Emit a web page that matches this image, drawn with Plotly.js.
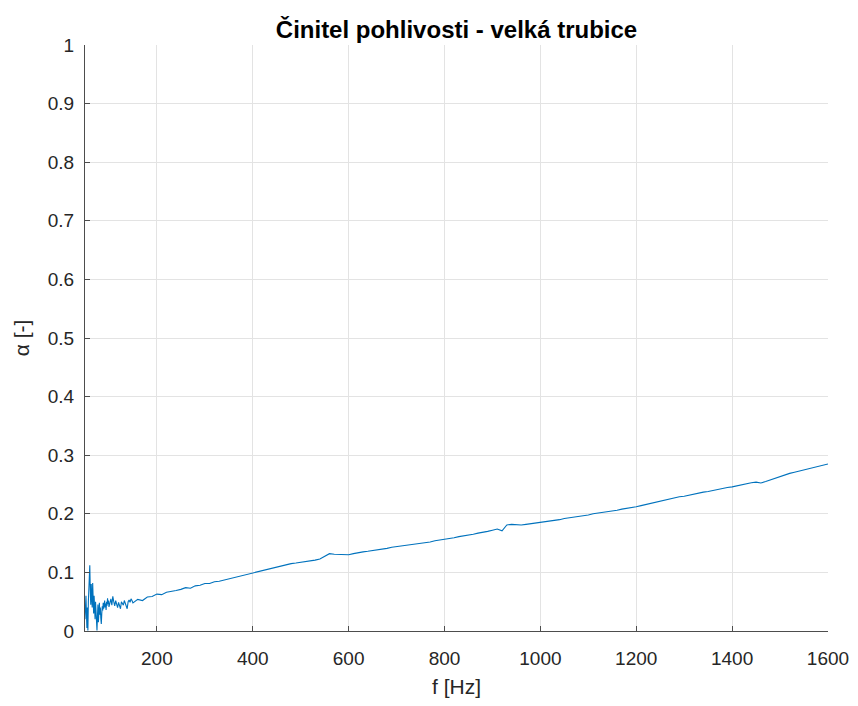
<!DOCTYPE html>
<html>
<head>
<meta charset="utf-8">
<script src="https://cdn.plot.ly/plotly-3.0.1.min.js"></script>
<style>html,body{margin:0;padding:0;background:#fff;}#chart{width:858px;height:706px;}</style>
</head>
<body>
<div id="chart"></div>
<script>
// Low-frequency (noisy) part, 1 Hz step
const freqLow = [50,51,52,53,54,55,56,57,58,59,60,61,62,63,64,65,66,67,68,69,70,71,72,73,74,75,76,77,78,79,80,81,82,83,84,85,86,87,88,89,90,91,92,93,94,95,96,97,98,99,100];
const alphaLow = [0.020,0.045,0.060,0.030,0.005,0.040,0.001,0.050,0.085,0.108,0.112,0.070,0.045,0.080,0.055,0.040,0.082,0.050,0.030,0.060,0.045,0.020,0.050,0.035,0.010,0.001,0.025,0.045,0.015,0.035,0.048,0.028,0.040,0.022,0.012,0.030,0.042,0.035,0.048,0.038,0.045,0.052,0.040,0.047,0.036,0.050,0.043,0.056,0.046,0.052,0.041];
// 102-150 Hz, 2 Hz step
const freqMid = [102,104,106,108,110,112,114,116,118,120,122,124,126,128,130,132,134,136,138,140,142,144,146,148,150];
const alphaMid = [0.048,0.055,0.044,0.059,0.050,0.043,0.052,0.046,0.040,0.049,0.045,0.038,0.050,0.047,0.044,0.052,0.048,0.042,0.038,0.050,0.053,0.049,0.055,0.052,0.048];
// 160-1600 Hz, 10 Hz step
const freqHigh = [160,170,180,190,200,210,220,230,240,250,260,270,280,290,300,310,320,330,340,350,360,370,380,390,400,410,420,430,440,450,460,470,480,490,500,510,520,530,540,550,560,570,580,590,600,610,620,630,640,650,660,670,680,690,700,710,720,730,740,750,760,770,780,790,800,810,820,830,840,850,860,870,880,890,900,910,920,930,940,950,960,970,980,990,1000,1010,1020,1030,1040,1050,1060,1070,1080,1090,1100,1110,1120,1130,1140,1150,1160,1170,1180,1190,1200,1210,1220,1230,1240,1250,1260,1270,1280,1290,1300,1310,1320,1330,1340,1350,1360,1370,1380,1390,1400,1410,1420,1430,1440,1450,1460,1470,1480,1490,1500,1510,1520,1530,1540,1550,1560,1570,1580,1590,1600];
const alphaHigh = [0.054,0.052,0.058,0.059,0.063,0.062,0.066,0.067,0.069,0.071,0.074,0.073,0.077,0.078,0.081,0.081,0.084,0.085,0.087,0.090,0.091,0.094,0.095,0.097,0.099,0.101,0.104,0.106,0.108,0.110,0.112,0.113,0.115,0.116,0.117,0.118,0.120,0.121,0.123,0.127,0.132,0.131,0.131,0.130,0.130,0.132,0.134,0.135,0.136,0.137,0.139,0.140,0.141,0.143,0.144,0.145,0.146,0.148,0.148,0.150,0.151,0.152,0.154,0.155,0.156,0.158,0.159,0.161,0.162,0.164,0.165,0.167,0.168,0.170,0.172,0.174,0.171,0.181,0.182,0.181,0.181,0.182,0.183,0.184,0.185,0.186,0.188,0.189,0.190,0.192,0.193,0.194,0.196,0.197,0.198,0.200,0.201,0.202,0.204,0.205,0.206,0.208,0.209,0.211,0.212,0.214,0.216,0.217,0.219,0.221,0.223,0.225,0.227,0.229,0.230,0.232,0.233,0.235,0.237,0.238,0.240,0.241,0.243,0.245,0.246,0.248,0.249,0.251,0.253,0.254,0.2525,0.255,0.258,0.261,0.264,0.266,0.269,0.271,0.273,0.275,0.277,0.279,0.281,0.284,0.285];

const xTicks = [200,400,600,800,1000,1200,1400,1600];
const yTicks = [0,0.1,0.2,0.3,0.4,0.5,0.6,0.7,0.8,0.9,1];

const freq = freqLow.concat(freqMid, freqHigh);
const alpha = alphaLow.concat(alphaMid, alphaHigh);

const trace = {
  x: freq, y: alpha, type: 'scatter', mode: 'lines',
  line: {color: '#0072BD', width: 1.1}, hoverinfo: 'skip'
};

const font = 'Arial, "Liberation Sans", Helvetica, sans-serif';
const layout = {
  width: 858, height: 706,
  paper_bgcolor: '#ffffff', plot_bgcolor: '#ffffff',
  margin: {l: 85, r: 30, t: 45, b: 75, pad: 0},
  showlegend: false,
  font: {family: font, color: '#262626', size: 19},
  title: {
    text: '<b>Činitel pohlivosti - velká trubice</b>',
    font: {family: font, size: 24, color: '#000000'},
    xref: 'paper', x: 0.5, xanchor: 'center',
    yref: 'container', y: 0.958, yanchor: 'middle'
  },
  xaxis: {
    range: [50, 1600], tickvals: xTicks, ticktext: xTicks.map(String),
    showgrid: true, gridcolor: '#e3e3e3', gridwidth: 1,
    zeroline: false, showline: true, linecolor: '#4d4d4d', linewidth: 1,
    ticks: 'inside', ticklen: 5, tickcolor: '#4d4d4d', tickwidth: 1,
    ticklabelstandoff: 10,
    tickfont: {family: font, size: 19, color: '#262626'},
    title: {text: 'f [Hz]', font: {family: font, size: 21, color: '#262626'}, standoff: 11}
  },
  yaxis: {
    range: [0, 1], tickvals: yTicks, ticktext: yTicks.map(String),
    showgrid: true, gridcolor: '#e3e3e3', gridwidth: 1,
    zeroline: false, showline: true, linecolor: '#4d4d4d', linewidth: 1,
    ticks: 'inside', ticklen: 5, tickcolor: '#4d4d4d', tickwidth: 1,
    ticklabelstandoff: 6,
    tickfont: {family: font, size: 19, color: '#262626'},
    title: {text: 'α [-]', font: {family: font, size: 21, color: '#262626'}, standoff: 12}
  }
};

Plotly.newPlot('chart', [trace], layout, {displayModeBar: false, staticPlot: true});
</script>
</body>
</html>
